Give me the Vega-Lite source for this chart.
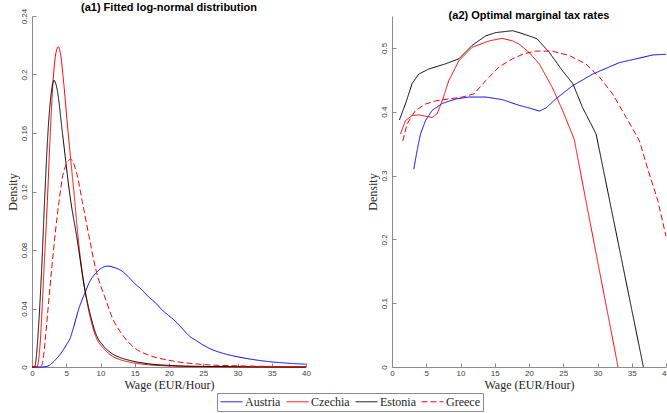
{
  "$schema": "https://vega.github.io/schema/vega-lite/v6.json",
  "padding": {"left": 6, "top": 2, "right": 0, "bottom": 0},
  "background": "white",
  "bounds": "flush",
  "spacing": 86,
  "datasets": {
    "density": [
      {"country": "Austria", "wage": 0, "value": 0},
      {"country": "Austria", "wage": 1.5, "value": 0},
      {"country": "Austria", "wage": 2.5, "value": 0.001},
      {"country": "Austria", "wage": 3, "value": 0.003},
      {"country": "Austria", "wage": 4, "value": 0.008},
      {"country": "Austria", "wage": 5, "value": 0.015},
      {"country": "Austria", "wage": 5.6, "value": 0.02},
      {"country": "Austria", "wage": 6, "value": 0.026},
      {"country": "Austria", "wage": 6.85, "value": 0.04},
      {"country": "Austria", "wage": 7.75, "value": 0.051},
      {"country": "Austria", "wage": 8.5, "value": 0.059},
      {"country": "Austria", "wage": 9.5, "value": 0.065},
      {"country": "Austria", "wage": 10.3, "value": 0.068},
      {"country": "Austria", "wage": 11.1, "value": 0.069},
      {"country": "Austria", "wage": 12, "value": 0.068},
      {"country": "Austria", "wage": 13, "value": 0.066},
      {"country": "Austria", "wage": 14, "value": 0.062},
      {"country": "Austria", "wage": 15, "value": 0.057},
      {"country": "Austria", "wage": 16, "value": 0.053},
      {"country": "Austria", "wage": 17, "value": 0.048},
      {"country": "Austria", "wage": 18, "value": 0.044},
      {"country": "Austria", "wage": 19, "value": 0.039},
      {"country": "Austria", "wage": 20, "value": 0.035},
      {"country": "Austria", "wage": 21, "value": 0.031},
      {"country": "Austria", "wage": 22, "value": 0.026},
      {"country": "Austria", "wage": 23, "value": 0.021},
      {"country": "Austria", "wage": 24, "value": 0.018},
      {"country": "Austria", "wage": 25, "value": 0.015},
      {"country": "Austria", "wage": 26, "value": 0.0125},
      {"country": "Austria", "wage": 28, "value": 0.0092},
      {"country": "Austria", "wage": 30, "value": 0.007},
      {"country": "Austria", "wage": 32, "value": 0.0053},
      {"country": "Austria", "wage": 35, "value": 0.0035},
      {"country": "Austria", "wage": 38, "value": 0.0024},
      {"country": "Austria", "wage": 40, "value": 0.0019},

      {"country": "Czechia", "wage": 0, "value": 0},
      {"country": "Czechia", "wage": 0.5, "value": 0},
      {"country": "Czechia", "wage": 0.8, "value": 0.001},
      {"country": "Czechia", "wage": 1.0, "value": 0.006},
      {"country": "Czechia", "wage": 1.27, "value": 0.022},
      {"country": "Czechia", "wage": 1.75, "value": 0.067},
      {"country": "Czechia", "wage": 2.24, "value": 0.113},
      {"country": "Czechia", "wage": 2.68, "value": 0.161},
      {"country": "Czechia", "wage": 3.07, "value": 0.195},
      {"country": "Czechia", "wage": 3.4, "value": 0.212},
      {"country": "Czechia", "wage": 3.84, "value": 0.219},
      {"country": "Czechia", "wage": 4.2, "value": 0.213},
      {"country": "Czechia", "wage": 4.57, "value": 0.197},
      {"country": "Czechia", "wage": 5.26, "value": 0.161},
      {"country": "Czechia", "wage": 6.25, "value": 0.113},
      {"country": "Czechia", "wage": 6.7, "value": 0.09},
      {"country": "Czechia", "wage": 7.75, "value": 0.052},
      {"country": "Czechia", "wage": 8.5, "value": 0.034},
      {"country": "Czechia", "wage": 9.3, "value": 0.021},
      {"country": "Czechia", "wage": 10.5, "value": 0.0125},
      {"country": "Czechia", "wage": 11.7, "value": 0.0075},
      {"country": "Czechia", "wage": 13, "value": 0.0048},
      {"country": "Czechia", "wage": 14.2, "value": 0.0034},
      {"country": "Czechia", "wage": 17, "value": 0.0015},
      {"country": "Czechia", "wage": 20, "value": 0.0007},
      {"country": "Czechia", "wage": 25, "value": 0.0002},
      {"country": "Czechia", "wage": 30, "value": 0.0001},
      {"country": "Czechia", "wage": 40, "value": 0},

      {"country": "Estonia", "wage": 0, "value": 0},
      {"country": "Estonia", "wage": 0.3, "value": 0},
      {"country": "Estonia", "wage": 0.45, "value": 0.001},
      {"country": "Estonia", "wage": 0.65, "value": 0.008},
      {"country": "Estonia", "wage": 0.88, "value": 0.022},
      {"country": "Estonia", "wage": 1.41, "value": 0.067},
      {"country": "Estonia", "wage": 1.83, "value": 0.113},
      {"country": "Estonia", "wage": 2.34, "value": 0.161},
      {"country": "Estonia", "wage": 2.75, "value": 0.185},
      {"country": "Estonia", "wage": 3.21, "value": 0.196},
      {"country": "Estonia", "wage": 3.7, "value": 0.189},
      {"country": "Estonia", "wage": 4.42, "value": 0.161},
      {"country": "Estonia", "wage": 5.67, "value": 0.113},
      {"country": "Estonia", "wage": 6.5, "value": 0.09},
      {"country": "Estonia", "wage": 7.75, "value": 0.052},
      {"country": "Estonia", "wage": 8.5, "value": 0.036},
      {"country": "Estonia", "wage": 9.3, "value": 0.023},
      {"country": "Estonia", "wage": 10.5, "value": 0.014},
      {"country": "Estonia", "wage": 11.7, "value": 0.0091},
      {"country": "Estonia", "wage": 13, "value": 0.0062},
      {"country": "Estonia", "wage": 14.2, "value": 0.0046},
      {"country": "Estonia", "wage": 17, "value": 0.0022},
      {"country": "Estonia", "wage": 20, "value": 0.0011},
      {"country": "Estonia", "wage": 25, "value": 0.0004},
      {"country": "Estonia", "wage": 30, "value": 0.0002},
      {"country": "Estonia", "wage": 40, "value": 0},

      {"country": "Greece", "wage": 0, "value": 0},
      {"country": "Greece", "wage": 1.0, "value": 0},
      {"country": "Greece", "wage": 1.4, "value": 0.001},
      {"country": "Greece", "wage": 1.7, "value": 0.008},
      {"country": "Greece", "wage": 2.0, "value": 0.022},
      {"country": "Greece", "wage": 2.4, "value": 0.043},
      {"country": "Greece", "wage": 2.87, "value": 0.067},
      {"country": "Greece", "wage": 3.94, "value": 0.113},
      {"country": "Greece", "wage": 4.6, "value": 0.133},
      {"country": "Greece", "wage": 5.65, "value": 0.142},
      {"country": "Greece", "wage": 6.5, "value": 0.133},
      {"country": "Greece", "wage": 7.35, "value": 0.113},
      {"country": "Greece", "wage": 8.3, "value": 0.09},
      {"country": "Greece", "wage": 9.3, "value": 0.067},
      {"country": "Greece", "wage": 10.85, "value": 0.045},
      {"country": "Greece", "wage": 11.7, "value": 0.034},
      {"country": "Greece", "wage": 13.2, "value": 0.022},
      {"country": "Greece", "wage": 15.1, "value": 0.0126},
      {"country": "Greece", "wage": 17.1, "value": 0.008},
      {"country": "Greece", "wage": 20, "value": 0.0046},
      {"country": "Greece", "wage": 25, "value": 0.0017},
      {"country": "Greece", "wage": 30, "value": 0.0008},
      {"country": "Greece", "wage": 35, "value": 0.0004},
      {"country": "Greece", "wage": 40, "value": 0.0002}
    ],
    "taxrate": [
      {"country": "Austria", "wage": 3.18, "value": 0.31},
      {"country": "Austria", "wage": 3.66, "value": 0.339},
      {"country": "Austria", "wage": 4.16, "value": 0.365},
      {"country": "Austria", "wage": 4.89, "value": 0.386},
      {"country": "Austria", "wage": 5.86, "value": 0.402},
      {"country": "Austria", "wage": 7.33, "value": 0.413},
      {"country": "Austria", "wage": 9.29, "value": 0.42},
      {"country": "Austria", "wage": 11.2, "value": 0.423},
      {"country": "Austria", "wage": 13.7, "value": 0.423},
      {"country": "Austria", "wage": 16.1, "value": 0.419},
      {"country": "Austria", "wage": 18.56, "value": 0.41},
      {"country": "Austria", "wage": 20, "value": 0.406},
      {"country": "Austria", "wage": 21.5, "value": 0.401},
      {"country": "Austria", "wage": 22.5, "value": 0.406},
      {"country": "Austria", "wage": 23.9, "value": 0.42},
      {"country": "Austria", "wage": 26.4, "value": 0.441},
      {"country": "Austria", "wage": 29.3, "value": 0.459},
      {"country": "Austria", "wage": 33.2, "value": 0.477},
      {"country": "Austria", "wage": 35.7, "value": 0.483},
      {"country": "Austria", "wage": 38.1, "value": 0.489},
      {"country": "Austria", "wage": 40, "value": 0.49},

      {"country": "Czechia", "wage": 1.23, "value": 0.365},
      {"country": "Czechia", "wage": 1.96, "value": 0.386},
      {"country": "Czechia", "wage": 2.93, "value": 0.394},
      {"country": "Czechia", "wage": 3.91, "value": 0.395},
      {"country": "Czechia", "wage": 4.89, "value": 0.393},
      {"country": "Czechia", "wage": 5.86, "value": 0.391},
      {"country": "Czechia", "wage": 6.6, "value": 0.397},
      {"country": "Czechia", "wage": 7.33, "value": 0.417},
      {"country": "Czechia", "wage": 8.3, "value": 0.449},
      {"country": "Czechia", "wage": 9.77, "value": 0.48},
      {"country": "Czechia", "wage": 11.7, "value": 0.501},
      {"country": "Czechia", "wage": 14.2, "value": 0.511},
      {"country": "Czechia", "wage": 16.1, "value": 0.515},
      {"country": "Czechia", "wage": 17.6, "value": 0.511},
      {"country": "Czechia", "wage": 18.56, "value": 0.506},
      {"country": "Czechia", "wage": 20, "value": 0.493},
      {"country": "Czechia", "wage": 21.5, "value": 0.475},
      {"country": "Czechia", "wage": 23.4, "value": 0.438},
      {"country": "Czechia", "wage": 24.9, "value": 0.402},
      {"country": "Czechia", "wage": 26.6, "value": 0.357},
      {"country": "Czechia", "wage": 28.3, "value": 0.261},
      {"country": "Czechia", "wage": 33.0, "value": 0},

      {"country": "Estonia", "wage": 1.08, "value": 0.387},
      {"country": "Estonia", "wage": 1.96, "value": 0.412},
      {"country": "Estonia", "wage": 2.93, "value": 0.444},
      {"country": "Estonia", "wage": 3.91, "value": 0.459},
      {"country": "Estonia", "wage": 5.38, "value": 0.467},
      {"country": "Estonia", "wage": 7.8, "value": 0.475},
      {"country": "Estonia", "wage": 9.77, "value": 0.483},
      {"country": "Estonia", "wage": 11.7, "value": 0.504},
      {"country": "Estonia", "wage": 13.7, "value": 0.519},
      {"country": "Estonia", "wage": 15.15, "value": 0.524},
      {"country": "Estonia", "wage": 17.6, "value": 0.527},
      {"country": "Estonia", "wage": 18.56, "value": 0.524},
      {"country": "Estonia", "wage": 20.5, "value": 0.517},
      {"country": "Estonia", "wage": 21.2, "value": 0.514},
      {"country": "Estonia", "wage": 22.96, "value": 0.493},
      {"country": "Estonia", "wage": 24.9, "value": 0.464},
      {"country": "Estonia", "wage": 26.4, "value": 0.444},
      {"country": "Estonia", "wage": 27.8, "value": 0.407},
      {"country": "Estonia", "wage": 29.8, "value": 0.365},
      {"country": "Estonia", "wage": 36.7, "value": 0},

      {"country": "Greece", "wage": 1.57, "value": 0.354},
      {"country": "Greece", "wage": 2.2, "value": 0.381},
      {"country": "Greece", "wage": 3.43, "value": 0.402},
      {"country": "Greece", "wage": 4.89, "value": 0.412},
      {"country": "Greece", "wage": 6.36, "value": 0.417},
      {"country": "Greece", "wage": 8.3, "value": 0.42},
      {"country": "Greece", "wage": 10.26, "value": 0.423},
      {"country": "Greece", "wage": 11.97, "value": 0.428},
      {"country": "Greece", "wage": 13.7, "value": 0.449},
      {"country": "Greece", "wage": 15.6, "value": 0.47},
      {"country": "Greece", "wage": 17.6, "value": 0.483},
      {"country": "Greece", "wage": 19.3, "value": 0.491},
      {"country": "Greece", "wage": 21, "value": 0.495},
      {"country": "Greece", "wage": 23.4, "value": 0.495},
      {"country": "Greece", "wage": 25.9, "value": 0.488},
      {"country": "Greece", "wage": 28.3, "value": 0.475},
      {"country": "Greece", "wage": 30.3, "value": 0.454},
      {"country": "Greece", "wage": 32.2, "value": 0.428},
      {"country": "Greece", "wage": 34.2, "value": 0.391},
      {"country": "Greece", "wage": 36.1, "value": 0.355},
      {"country": "Greece", "wage": 37.4, "value": 0.308},
      {"country": "Greece", "wage": 38.8, "value": 0.261},
      {"country": "Greece", "wage": 40, "value": 0.205}
    ]
  },
  "hconcat": [
    {
      "title": "(a1) Fitted log-normal distribution",
      "width": 274,
      "height": 351,
      "data": {"name": "density"},
      "mark": {"type": "line", "interpolate": "monotone"},
      "encoding": {
        "x": {"field": "wage", "type": "quantitative", "title": "Wage (EUR/Hour)",
              "scale": {"domain": [0, 40], "nice": false},
              "axis": {"values": [0, 5, 10, 15, 20, 25, 30, 35, 40]}},
        "y": {"field": "value", "type": "quantitative", "title": "Density",
              "scale": {"domain": [0, 0.24], "nice": false},
              "axis": {"values": [0, 0.04, 0.08, 0.12, 0.16, 0.2, 0.24], "format": "~g"}},
        "color": {"field": "country", "type": "nominal", "title": null,
                  "scale": {"domain": ["Austria", "Czechia", "Estonia", "Greece"],
                            "range": ["#0000ff", "#ff0000", "#000000", "#ff0000"]},
                  "legend": {"orient": "none", "legendX": 185, "legendY": 377, "direction": "horizontal", "columns": 4}},
        "strokeDash": {"field": "country", "type": "nominal", "title": null,
                       "scale": {"domain": ["Austria", "Czechia", "Estonia", "Greece"],
                                 "range": [[1, 0], [1, 0], [1, 0], [6, 3]]},
                       "legend": {"orient": "none", "legendX": 185, "legendY": 377, "direction": "horizontal", "columns": 4}},
        "strokeWidth": {"field": "country", "type": "nominal", "legend": null,
                        "scale": {"domain": ["Austria", "Czechia", "Estonia", "Greece"],
                                  "range": [1, 1, 1, 1.7]}}
      }
    },
    {
      "title": "(a2) Optimal marginal tax rates",
      "width": 274,
      "height": 351,
      "data": {"name": "taxrate"},
      "mark": {"type": "line"},
      "encoding": {
        "x": {"field": "wage", "type": "quantitative", "title": "Wage (EUR/Hour)",
              "scale": {"domain": [0, 40], "nice": false},
              "axis": {"values": [0, 5, 10, 15, 20, 25, 30, 35, 40]}},
        "y": {"field": "value", "type": "quantitative", "title": "Density",
              "scale": {"domain": [0, 0.55], "nice": false},
              "axis": {"values": [0, 0.1, 0.2, 0.3, 0.4, 0.5], "format": "~g"}},
        "color": {"field": "country", "type": "nominal", "title": null,
                  "scale": {"domain": ["Austria", "Czechia", "Estonia", "Greece"],
                            "range": ["#0000ff", "#ff0000", "#000000", "#ff0000"]}},
        "strokeDash": {"field": "country", "type": "nominal", "title": null,
                       "scale": {"domain": ["Austria", "Czechia", "Estonia", "Greece"],
                                 "range": [[1, 0], [1, 0], [1, 0], [6, 3]]}},
        "strokeWidth": {"field": "country", "type": "nominal", "legend": null,
                        "scale": {"domain": ["Austria", "Czechia", "Estonia", "Greece"],
                                  "range": [1, 1, 1, 1.7]}}
      }
    }
  ],
  "resolve": {"scale": {"y": "independent"}},
  "config": {
    "view": {"stroke": null},
    "title": {"font": "Liberation Sans", "fontSize": 11, "fontWeight": "bold", "color": "#000000", "anchor": "middle", "offset": -5},
    "axis": {
      "grid": false,
      "domainColor": "#8c8c8c",
      "tickColor": "#8c8c8c",
      "tickSize": -4,
      "labelFlush": false,
      "labelFont": "Liberation Sans",
      "labelFontSize": 8,
      "labelColor": "#404040",
      "titleFont": "Liberation Serif",
      "titleFontSize": 12,
      "titleFontWeight": "normal",
      "titleColor": "#262626"
    },
    "axisX": {"labelPadding": 6, "titlePadding": 2},
    "axisY": {"labelAngle": -90, "labelAlign": "center", "labelBaseline": "bottom", "labelPadding": 8, "titlePadding": 1},
    "legend": {
      "symbolType": "stroke",
      "symbolSize": 484,
      "symbolStrokeWidth": 1.2,
      "clipHeight": 11,
      "labelFont": "Liberation Serif",
      "labelFontSize": 12,
      "labelColor": "#262626",
      "labelOffset": 2,
      "columnPadding": 5,
      "strokeColor": "#8c8c8c",
      "padding": 3,
      "fillColor": "white"
    }
  }
}
